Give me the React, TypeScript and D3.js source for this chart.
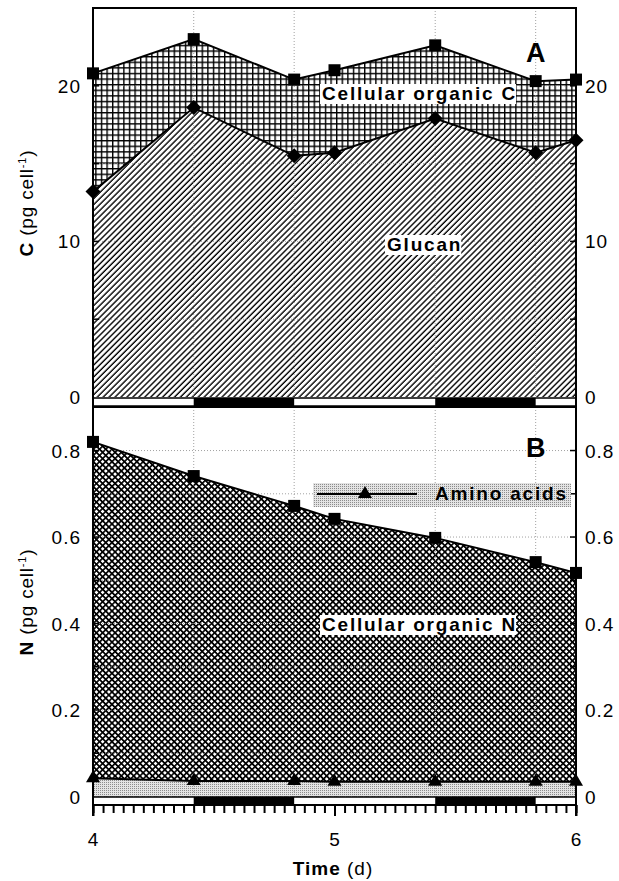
import React, { useEffect, useRef } from 'react'
import * as d3 from 'd3'

// sampling times (d) and measured values
const times = [4, 4.417, 4.833, 5, 5.417, 5.833, 6]
const cellularC = [20.8, 23.0, 20.4, 21.0, 22.6, 20.3, 20.4]
const glucan = [13.2, 18.6, 15.5, 15.7, 17.9, 15.7, 16.5]
const cellularN = [0.82, 0.741, 0.672, 0.642, 0.598, 0.542, 0.517]
const aminoAcids = [0.042, 0.036, 0.036, 0.034, 0.034, 0.034, 0.034]

// dark periods
const darkStart = [4.417, 5.417]
const darkEnd = [4.833, 5.833]

// ticks
const xTicks = [4, 5, 6]
const cTicks = [0, 10, 20]
const cGrid = [5, 10, 15, 20]
const nTicks = [0, 0.2, 0.4, 0.6, 0.8]
const nGrid = [0.1, 0.2, 0.3, 0.4, 0.5, 0.6, 0.7, 0.8]

const FONT = 'Liberation Sans, Arial, Helvetica, sans-serif'

function App() {
  const ref = useRef<SVGSVGElement>(null)
  useEffect(() => {
    if (ref.current) drawChart(ref.current)
  }, [])
  return (
    <svg
      ref={ref}
      width={619}
      height={881}
      style={{ position: 'absolute', left: 0, top: 0, background: '#fff' }}
    />
  )
}

function drawChart(node: SVGSVGElement) {
  const svg = d3.select(node)
  svg.selectAll('*').remove()

  const left = 93, right = 576, top = 8
  const x = d3.scaleLinear().domain([4, 6]).range([left, right])
  const yC = d3.scaleLinear().domain([0, 25]).range([397, top])
  const yN = d3.scaleLinear().domain([0, 0.9]).range([796.5, 407.3])

  // patterns
  const defs = svg.append('defs')
  const grid = defs.append('pattern').attr('id', 'gridC')
    .attr('patternUnits', 'userSpaceOnUse').attr('width', 5.6).attr('height', 5.6)
  grid.append('rect').attr('width', 5.6).attr('height', 5.6).attr('fill', '#fff')
  grid.append('path').attr('d', 'M0,0.7H5.6M0.7,0V5.6')
    .attr('stroke', '#000').attr('stroke-width', 1.4)

  const diag = defs.append('pattern').attr('id', 'diag')
    .attr('patternUnits', 'userSpaceOnUse').attr('width', 4.2).attr('height', 10)
    .attr('patternTransform', 'rotate(45)')
  diag.append('rect').attr('width', 4.2).attr('height', 10).attr('fill', '#fff')
  diag.append('line').attr('x1', 1).attr('x2', 1).attr('y1', 0).attr('y2', 10)
    .attr('stroke', '#000').attr('stroke-width', 1.4)

  const cross = defs.append('pattern').attr('id', 'cross')
    .attr('patternUnits', 'userSpaceOnUse').attr('width', 4.4).attr('height', 4.4)
    .attr('patternTransform', 'rotate(45)')
  cross.append('rect').attr('width', 4.4).attr('height', 4.4).attr('fill', '#fff')
  cross.append('path').attr('d', 'M0,0.8H4.4M0.8,0V4.4')
    .attr('stroke', '#000').attr('stroke-width', 1.7)

  const dots = defs.append('pattern').attr('id', 'dots')
    .attr('patternUnits', 'userSpaceOnUse').attr('width', 2).attr('height', 2)
  dots.append('rect').attr('width', 2).attr('height', 2).attr('fill', '#e4e4e4')
  dots.append('rect').attr('width', 1).attr('height', 1).attr('fill', '#8c8c8c')

  const rows = times.map((t, i) => ({
    t, c: cellularC[i], g: glucan[i], n: cellularN[i], a: aminoAcids[i]
  }))

  // filled areas
  const areaOf = (y: d3.ScaleLinear<number, number>, key: 'c' | 'g' | 'n' | 'a') =>
    d3.area<any>().x(d => x(d.t)).y0(y(0)).y1(d => y(d[key]))
  svg.append('path').datum(rows).attr('d', areaOf(yC, 'c')).attr('fill', 'url(#gridC)')
  svg.append('path').datum(rows).attr('d', areaOf(yC, 'g')).attr('fill', 'url(#diag)')
  svg.append('path').datum(rows).attr('d', areaOf(yN, 'n')).attr('fill', 'url(#cross)')
  svg.append('path').datum(rows).attr('d', areaOf(yN, 'a')).attr('fill', 'url(#dots)')

  // dotted grid
  const gridG = svg.append('g').attr('stroke', '#8a8a8a').attr('stroke-width', 0.8)
    .attr('stroke-dasharray', '1,2')
  darkStart.concat(darkEnd).forEach(v => {
    gridG.append('line').attr('x1', x(v)).attr('x2', x(v)).attr('y1', top).attr('y2', 805)
  })
  cGrid.forEach(v => {
    gridG.append('line').attr('x1', left).attr('x2', right).attr('y1', yC(v)).attr('y2', yC(v))
  })
  nGrid.forEach(v => {
    gridG.append('line').attr('x1', left).attr('x2', right).attr('y1', yN(v)).attr('y2', yN(v))
  })

  // light / dark bars
  const bars = [[398, 406], [797, 805]]
  bars.forEach(([y0, y1]) => {
    svg.append('rect').attr('x', left).attr('y', y0).attr('width', right - left)
      .attr('height', y1 - y0).attr('fill', '#fff').attr('stroke', '#000').attr('stroke-width', 1.5)
    darkStart.forEach((s, i) => {
      svg.append('rect').attr('x', x(s)).attr('y', y0).attr('width', x(darkEnd[i]) - x(s))
        .attr('height', y1 - y0).attr('fill', '#000')
    })
  })

  // data lines
  const lineOf = (y: d3.ScaleLinear<number, number>, key: 'c' | 'g' | 'n' | 'a') =>
    d3.line<any>().x(d => x(d.t)).y(d => y(d[key]))
  const lines: [d3.ScaleLinear<number, number>, 'c' | 'g' | 'n' | 'a'][] =
    [[yC, 'c'], [yC, 'g'], [yN, 'n'], [yN, 'a']]
  lines.forEach(([y, k]) => {
    svg.append('path').datum(rows).attr('d', lineOf(y, k))
      .attr('fill', 'none').attr('stroke', '#000').attr('stroke-width', 2)
  })

  // hourly ticks on the time axis (d3 axis, labels drawn separately)
  const hours = d3.range(0, 49).map(h => 4 + h / 24)
  const hourAxis = svg.append('g').attr('transform', 'translate(0,805)')
    .call(d3.axisBottom(x).tickValues(hours).tickSize(8).tickSizeOuter(0).tickFormat(() => ''))
  hourAxis.select('.domain').remove()
  hourAxis.selectAll('line').attr('stroke', '#000').attr('stroke-width', 2)
  const majorAxis = svg.append('g').attr('transform', 'translate(0,805)')
    .call(d3.axisBottom(x).tickValues(xTicks).tickSize(11).tickSizeOuter(0).tickFormat(() => ''))
  majorAxis.select('.domain').remove()
  majorAxis.selectAll('line').attr('stroke', '#000').attr('stroke-width', 2)

  // frame & axes
  const frame = svg.append('g').attr('stroke', '#000').attr('stroke-width', 2).attr('fill', 'none')
  frame.append('line').attr('x1', left).attr('x2', left).attr('y1', top - 1).attr('y2', 816)
  frame.append('line').attr('x1', right).attr('x2', right).attr('y1', top - 1).attr('y2', 816)
  frame.append('line').attr('x1', left).attr('x2', right).attr('y1', top).attr('y2', top)
  frame.append('line').attr('x1', left).attr('x2', right).attr('y1', 407).attr('y2', 407)
  frame.append('line').attr('x1', left).attr('x2', right).attr('y1', 805).attr('y2', 805)

  // inward y ticks
  const tickG = svg.append('g').attr('stroke', '#000').attr('stroke-width', 1.5)
  cGrid.forEach(v => {
    tickG.append('line').attr('x1', left).attr('x2', left + 6).attr('y1', yC(v)).attr('y2', yC(v))
    tickG.append('line').attr('x1', right - 6).attr('x2', right).attr('y1', yC(v)).attr('y2', yC(v))
  })
  nGrid.forEach(v => {
    tickG.append('line').attr('x1', left).attr('x2', left + 6).attr('y1', yN(v)).attr('y2', yN(v))
    tickG.append('line').attr('x1', right - 6).attr('x2', right).attr('y1', yN(v)).attr('y2', yN(v))
  })

  // markers
  const mk = svg.append('g').attr('fill', '#000')
  rows.forEach(d => {
    mk.append('rect').attr('x', x(d.t) - 6).attr('y', yC(d.c) - 6).attr('width', 12).attr('height', 12)
    mk.append('path').attr('d', `M${x(d.t)},${yC(d.g) - 7.5}l7.5,7.5l-7.5,7.5l-7.5,-7.5z`)
    mk.append('rect').attr('x', x(d.t) - 6).attr('y', yN(d.n) - 6).attr('width', 12).attr('height', 12)
    mk.append('path').attr('d', `M${x(d.t)},${yN(d.a) - 8}l7,12h-14z`)
  })

  // tick labels
  const tl = svg.append('g').attr('font-family', FONT).attr('font-size', 19)
    .attr('letter-spacing', 1).attr('fill', '#000')
  cTicks.forEach(v => {
    tl.append('text').attr('x', 81).attr('y', yC(v) + 7).attr('text-anchor', 'end').text(v)
    tl.append('text').attr('x', 585).attr('y', yC(v) + 7).text(v)
  })
  nTicks.forEach(v => {
    const s = v === 0 ? '0' : d3.format('.1f')(v)
    tl.append('text').attr('x', 81).attr('y', yN(v) + 7).attr('text-anchor', 'end').text(s)
    tl.append('text').attr('x', 585).attr('y', yN(v) + 7).text(s)
  })
  xTicks.forEach(v => {
    tl.append('text').attr('x', x(v) + 0.5).attr('y', 846).attr('text-anchor', 'middle').text(v)
  })

  // axis titles
  const yTitle = (cy: number, head: string) => {
    const t = svg.append('text').attr('font-family', FONT).attr('font-size', 19)
      .attr('letter-spacing', 0.8)
      .attr('transform', `translate(33,${cy}) rotate(-90)`).attr('text-anchor', 'middle')
    t.append('tspan').attr('font-weight', 'bold').text(head)
    t.append('tspan').text(' (pg cell')
    t.append('tspan').attr('font-size', 11).attr('dy', -7).text('-1')
    t.append('tspan').attr('dy', 7).text(')')
  }
  yTitle(203, 'C')
  yTitle(602, 'N')

  const xt = svg.append('text').attr('font-family', FONT).attr('font-size', 19)
    .attr('letter-spacing', 1).attr('x', 333).attr('y', 875).attr('text-anchor', 'middle')
  xt.append('tspan').attr('font-weight', 'bold').text('Time')
  xt.append('tspan').text(' (d)')

  // in-plot labels with background boxes
  const label = (lx: number, ly: number, txt: string, bg: string) => {
    const g = svg.append('g')
    const t = g.append('text').attr('x', lx).attr('y', ly).attr('font-family', FONT)
      .attr('font-size', 19).attr('font-weight', 'bold').attr('letter-spacing', 1.8).text(txt)
    const b = (t.node() as SVGTextElement).getBBox()
    g.insert('rect', 'text').attr('x', b.x - 2).attr('y', b.y + 1).attr('width', b.width + 1)
      .attr('height', b.height - 1).attr('fill', bg)
  }
  label(322, 100, 'Cellular organic C', '#fff')
  label(387, 251, 'Glucan', '#fff')
  label(322, 631, 'Cellular organic N', '#fff')

  // amino acids legend
  svg.append('rect').attr('x', 313).attr('y', 483).attr('width', 258).attr('height', 24)
    .attr('fill', 'url(#dots)')
  svg.append('line').attr('x1', 317).attr('x2', 417).attr('y1', 494).attr('y2', 494)
    .attr('stroke', '#000').attr('stroke-width', 2)
  svg.append('path').attr('d', 'M365,486l7,12h-14z').attr('fill', '#000')
  svg.append('text').attr('x', 435).attr('y', 500).attr('font-family', FONT)
    .attr('font-size', 19).attr('font-weight', 'bold').attr('letter-spacing', 1.8).text('Amino acids')

  // panel letters
  svg.append('text').attr('x', 526).attr('y', 62).attr('font-family', FONT)
    .attr('font-size', 27).attr('font-weight', 'bold').text('A')
  svg.append('text').attr('x', 526).attr('y', 457).attr('font-family', FONT)
    .attr('font-size', 27).attr('font-weight', 'bold').text('B')
}

export default App
